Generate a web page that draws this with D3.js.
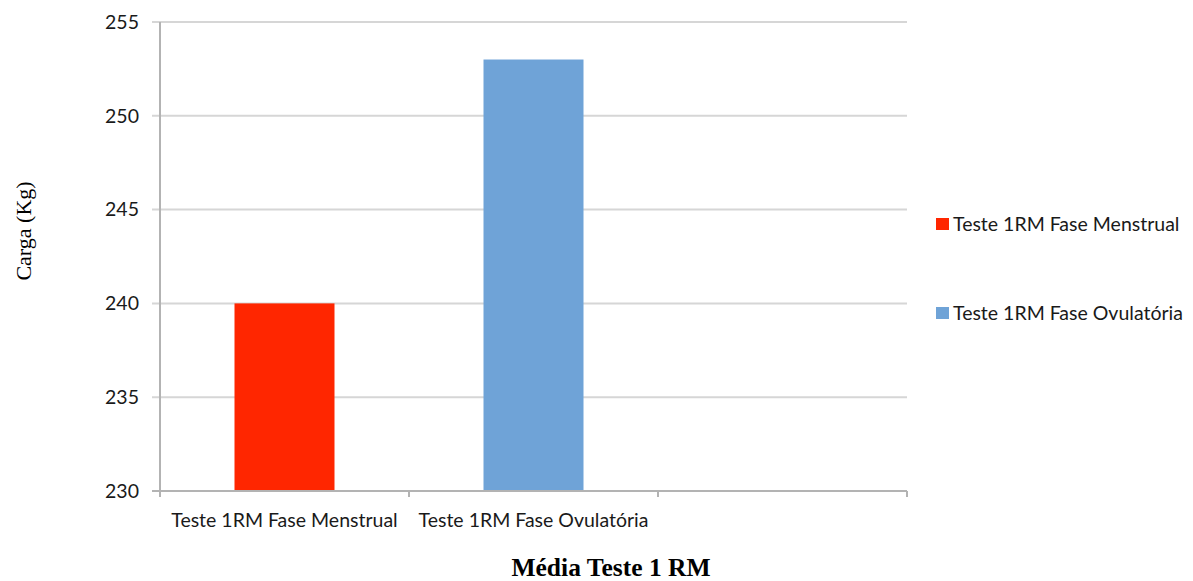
<!DOCTYPE html>
<html>
<head>
<meta charset="utf-8">
<script src="https://cdn.jsdelivr.net/npm/d3@7"></script>
<style>
  html, body { margin: 0; padding: 0; background: #fff; }
  svg { display: block; }
</style>
</head>
<body>
<svg id="chart" width="1193" height="581"></svg>
<script>
// Average 1RM load per menstrual-cycle phase
const categories = ["Teste 1RM Fase Menstrual", "Teste 1RM Fase Ovulatória", ""];
const values = [240, 253];
const colors = ["#ff2600", "#6fa3d7"];
const yTicks = [230, 235, 240, 245, 250, 255];

const svg = d3.select("#chart");
const plotLeft = 160, plotRight = 907, plotTop = 22, plotBottom = 491;

const x = d3.scaleBand().domain(categories).range([plotLeft, plotRight]);
const y = d3.scaleLinear().domain([230, 255]).range([plotBottom, plotTop]);

const sans = "Lato, 'Open Sans', sans-serif";
const labelSize = 19.5;

// horizontal gridlines
svg.append("g").selectAll("line").data(yTicks.slice(1)).join("line")
  .attr("x1", plotLeft - 8).attr("x2", plotRight)
  .attr("y1", d => y(d)).attr("y2", d => y(d))
  .attr("stroke", "#d6d6d6").attr("stroke-width", 2);

// bars
const barW = 100;
svg.append("g").selectAll("rect").data(values).join("rect")
  .attr("x", (d, i) => x(categories[i]) + x.bandwidth() / 2 - barW / 2)
  .attr("width", barW)
  .attr("y", d => y(d))
  .attr("height", d => y(230) - y(d))
  .attr("fill", (d, i) => colors[i]);

// y axis line
svg.append("line")
  .attr("x1", plotLeft).attr("x2", plotLeft).attr("y1", plotTop).attr("y2", plotBottom)
  .attr("stroke", "#b3b3b3").attr("stroke-width", 2);

// x axis line with tick marks at band edges
svg.append("line")
  .attr("x1", plotLeft - 8).attr("x2", plotRight).attr("y1", plotBottom).attr("y2", plotBottom)
  .attr("stroke", "#b3b3b3").attr("stroke-width", 2);
const edges = categories.map(c => x(c)).concat([plotRight]);
svg.append("g").selectAll("line").data(edges).join("line")
  .attr("x1", d => d).attr("x2", d => d)
  .attr("y1", plotBottom).attr("y2", plotBottom + 6)
  .attr("stroke", "#b3b3b3").attr("stroke-width", 2);

// y tick labels
svg.append("g").selectAll("text").data(yTicks).join("text")
  .attr("x", 139).attr("y", d => y(d))
  .attr("dy", "0.35em")
  .attr("text-anchor", "end")
  .attr("font-family", sans).attr("font-size", labelSize)
  .attr("fill", "#1a1a1a")
  .text(d => d);

// category labels
svg.append("g").selectAll("text").data(categories.filter(c => c)).join("text")
  .attr("x", d => x(d) + x.bandwidth() / 2)
  .attr("y", 527)
  .attr("text-anchor", "middle")
  .attr("font-family", sans).attr("font-size", labelSize)
  .attr("fill", "#1a1a1a")
  .text(d => d);

// legend
const legend = svg.append("g").selectAll("g").data(values).join("g")
  .attr("transform", (d, i) => `translate(936, ${224 + i * 89})`);
legend.append("rect")
  .attr("x", 0).attr("y", -6).attr("width", 13).attr("height", 12)
  .attr("fill", (d, i) => colors[i]);
legend.append("text")
  .attr("x", 17).attr("y", 0).attr("dy", "0.35em")
  .attr("font-family", sans).attr("font-size", labelSize)
  .attr("fill", "#1a1a1a")
  .text((d, i) => categories[i]);

// axis titles
svg.append("text")
  .attr("transform", "translate(31, 231) rotate(-90)")
  .attr("text-anchor", "middle")
  .attr("font-family", "'Liberation Serif', 'Times New Roman', serif")
  .attr("font-size", 22)
  .attr("fill", "#000")
  .text("Carga (Kg)");

svg.append("text")
  .attr("x", 611).attr("y", 576)
  .attr("text-anchor", "middle")
  .attr("font-family", "'Liberation Serif', 'Times New Roman', serif")
  .attr("font-weight", "bold")
  .attr("font-size", 25.5)
  .attr("fill", "#000")
  .text("Média Teste 1 RM");
</script>
</body>
</html>
